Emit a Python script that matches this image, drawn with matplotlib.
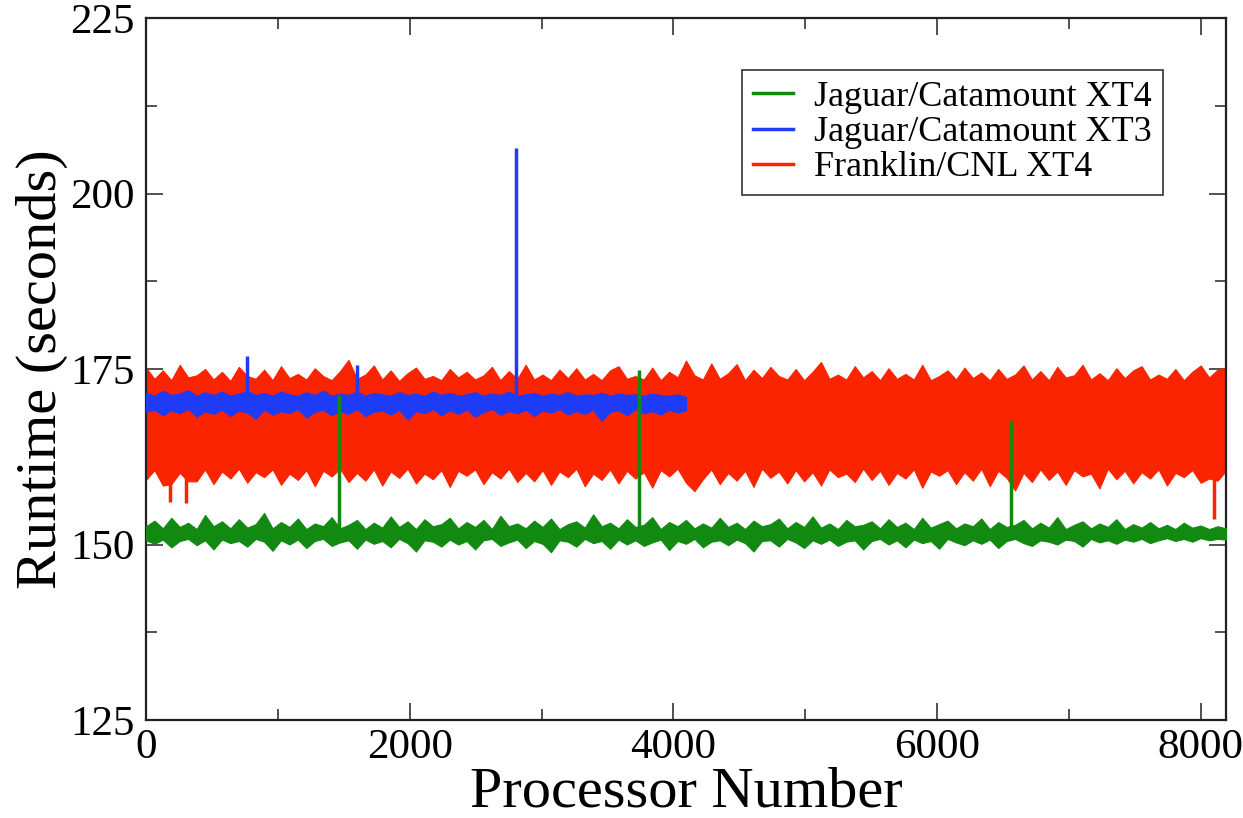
import matplotlib
matplotlib.use("Agg")
import matplotlib.pyplot as plt
import numpy as np
from matplotlib.lines import Line2D
from matplotlib.ticker import MultipleLocator

plt.rcParams['font.family'] = ['Liberation Serif', 'DejaVu Serif']

GREEN = '#128a12'
BLUE = '#1e3cf5'
RED = '#fb2400'

# envelope of the noisy runtime per block of 64 processors
proc_full = np.arange(0, 8193, 64)
proc_half = np.arange(0, 4097, 64)

red_hi = [
    175.2, 173.6, 174.8, 173.4, 175.6, 173.8, 174.1, 175.0, 173.5, 174.6,
    173.3, 175.3, 174.0, 173.6, 174.9, 173.4, 175.4, 173.7, 174.3, 173.5,
    175.1, 174.0, 173.4, 174.7, 176.3, 173.6, 174.2, 175.5, 173.5, 174.8,
    173.3, 174.4, 175.2, 173.6, 174.0, 173.4, 175.0, 173.8, 174.6, 173.5,
    174.1, 175.3, 173.4, 174.7, 173.6, 175.6, 173.5, 174.2, 173.4, 174.9,
    173.7, 175.1, 173.5, 174.3, 173.4, 174.8, 175.4, 173.6, 174.0, 173.5,
    175.2, 173.4, 174.6, 173.8, 176.2, 174.1, 173.5, 175.8, 173.6, 174.4,
    175.7, 173.4, 174.9, 173.7, 175.3, 174.0, 173.5, 175.0, 173.4, 174.6,
    176.0, 173.6, 174.2, 173.5, 175.4, 173.8, 174.7, 173.4, 175.1, 173.6,
    174.3, 173.5, 175.6, 173.4, 174.0, 174.8, 173.5, 175.2, 173.7, 174.5,
    173.4, 175.0, 173.6, 174.2, 175.5, 173.5, 174.7, 173.4, 175.3, 173.8,
    174.1, 175.6, 173.5, 174.4, 173.4, 175.1, 173.7, 174.8, 175.4, 173.5,
    174.2, 173.6, 175.0, 173.4, 174.6, 175.5, 173.8, 174.9, 175.2]
red_lo = [
    159.2, 160.6, 158.4, 158.6, 160.2, 159.0, 159.0, 160.7, 158.6, 160.4,
    159.4, 160.8, 158.8, 160.3, 159.6, 160.7, 158.5, 160.1, 159.2, 160.6,
    158.3, 160.5, 159.7, 160.8, 158.9, 160.2, 159.1, 160.7, 158.4, 160.4,
    159.5, 160.8, 158.7, 160.1, 159.3, 160.6, 158.2, 160.5, 159.8, 160.7,
    158.6, 160.3, 159.4, 160.8, 158.9, 160.2, 159.0, 160.6, 158.5, 160.4,
    159.6, 160.8, 158.3, 160.1, 159.2, 160.7, 158.7, 160.5, 159.4, 160.3,
    158.1, 160.6, 159.7, 160.8, 158.8, 157.6, 159.3, 160.7, 158.6, 160.2,
    159.1, 160.5, 158.2, 160.8, 159.5, 160.4, 158.7, 160.6, 159.0, 160.3,
    158.4, 160.7, 159.6, 160.1, 158.9, 160.8, 159.2, 160.5, 158.5, 160.2,
    159.4, 160.7, 158.1, 160.4, 159.8, 160.6, 158.6, 160.3, 159.1, 160.8,
    158.3, 160.5, 159.5, 157.7, 160.2, 158.9, 160.7, 159.2, 160.4, 158.5,
    160.6, 159.7, 160.1, 158.0, 160.8, 159.3, 160.5, 158.7, 160.3, 159.4,
    160.7, 158.4, 160.2, 159.6, 160.6, 158.8, 159.4, 159.1, 160.5]

blue_hi = [
    171.6, 171.2, 171.9, 171.3, 171.5, 172.0, 171.2, 171.7, 171.3, 171.8,
    171.2, 171.5, 171.9, 171.3, 171.6, 171.2, 171.8, 171.4, 171.2, 171.7,
    171.3, 171.9, 171.2, 171.5, 171.3, 171.8, 171.2, 171.6, 171.4, 171.2,
    171.7, 171.3, 171.5, 171.2, 171.8, 171.3, 171.6, 171.2, 171.4, 171.7,
    171.2, 171.5, 171.3, 171.8, 171.2, 171.4, 171.6, 171.2, 171.5, 171.3,
    171.7, 171.2, 171.4, 171.3, 171.6, 171.2, 171.5, 171.3, 171.4, 171.2,
    171.5, 171.3, 171.2, 171.4, 171.0]
blue_lo = [
    168.9, 169.2, 168.4, 169.1, 168.7, 169.3, 168.2, 169.0, 168.6, 169.2,
    168.3, 169.1, 168.8, 167.9, 169.2, 168.5, 169.0, 168.7, 169.3, 168.1,
    168.9, 169.2, 168.4, 169.0, 168.6, 169.3, 168.3, 168.9, 169.1, 168.5,
    169.2, 167.8, 169.0, 168.7, 169.3, 168.4, 169.1, 168.6, 169.2, 168.2,
    168.9, 169.3, 168.5, 169.0, 168.7, 169.2, 168.3, 169.1, 168.8, 169.3,
    168.5, 169.0, 168.6, 169.2, 167.6, 168.9, 169.1, 168.4, 169.3, 168.7,
    169.0, 168.5, 169.2, 168.8, 169.1]

green_hi = [
    152.6, 153.4, 152.3, 153.8, 152.5, 153.1, 152.2, 154.2, 152.6, 153.3,
    152.3, 153.6, 152.4, 152.9, 154.5, 152.3, 153.2, 152.5, 153.7, 152.2,
    153.0, 152.6, 153.9, 152.3, 152.8, 153.5, 152.2, 153.1, 152.4, 154.0,
    152.5, 153.3, 152.2, 153.6, 152.6, 152.9, 153.8, 152.3, 153.2, 152.5,
    153.5, 152.2, 154.1, 152.6, 153.0, 152.3, 153.4, 152.5, 153.7, 152.2,
    152.9, 153.3, 152.4, 154.3, 152.6, 153.1, 152.3, 153.6, 152.5, 152.8,
    153.9, 152.2, 153.2, 152.6, 153.5, 152.3, 153.0, 152.4, 153.8, 152.5,
    153.1, 152.2, 153.4, 152.6, 152.9, 153.7, 152.3, 153.2, 152.5, 154.0,
    152.4, 153.0, 152.2, 153.5, 152.6, 152.8, 153.3, 152.3, 153.6, 152.5,
    153.1, 152.2, 153.8, 152.4, 152.9, 153.4, 152.3, 153.0, 152.6, 153.7,
    152.2, 153.2, 152.5, 152.8, 153.5, 152.3, 153.1, 152.4, 153.9, 152.2,
    152.8, 153.3, 152.3, 153.0, 152.5, 153.6, 152.2, 152.9, 152.4, 153.2,
    152.3, 152.8, 152.2, 153.1, 152.4, 152.7, 152.2, 152.6, 152.3]
green_lo = [
    150.6, 150.1, 150.7, 149.6, 150.5, 150.8, 149.9, 150.6, 149.3, 150.7,
    150.2, 150.5, 149.7, 150.8, 150.4, 149.1, 150.6, 150.0, 150.7, 149.5,
    150.5, 150.8, 149.8, 150.3, 150.6, 149.4, 150.7, 150.1, 150.5, 149.6,
    150.8, 150.2, 149.0, 150.6, 150.4, 149.7, 150.7, 150.0, 150.5, 149.3,
    150.6, 150.8, 149.8, 150.3, 150.7, 149.5, 150.5, 150.1, 148.9, 150.6,
    150.4, 149.7, 150.8, 150.2, 150.5, 149.4, 150.7, 150.0, 150.6, 149.8,
    150.3, 150.7, 149.2, 150.5, 150.1, 150.8, 149.6, 150.4, 150.6, 149.9,
    150.7, 150.2, 149.0, 150.5, 150.6, 149.7, 150.8, 150.3, 149.5, 150.6,
    150.1, 150.7, 149.8, 150.4, 150.6, 149.3, 150.5, 150.8, 150.0, 150.6,
    149.6, 150.7, 150.2, 150.5, 149.4, 150.8, 150.3, 149.9, 150.6, 150.1,
    150.7, 149.5, 150.5, 150.8, 150.2, 149.8, 150.6, 150.4, 150.0, 150.7,
    150.5, 149.7, 150.8, 150.3, 150.6, 150.1, 150.7, 150.4, 150.8, 150.2,
    150.6, 150.9, 150.5, 150.8, 150.4, 150.9, 150.6, 150.8, 150.7]

# single outlier processors
red_dip_x = [180, 300, 8100]
red_dip_y = [156.0, 155.9, 153.6]
blue_spike_x = [768, 1600, 2810]
blue_spike_y = [176.8, 175.6, 206.5]
green_spike_x = [1462, 3740, 6560]
green_spike_y = [171.3, 174.9, 167.6]

labels = ['Jaguar/Catamount XT4', 'Jaguar/Catamount XT3', 'Franklin/CNL XT4']


def mid(x, xs, hi, lo):
    return np.interp(x, xs, (np.array(hi) + np.array(lo)) / 2)


fig = plt.figure(figsize=(12.43, 8.18), dpi=100)
ax = fig.add_axes([146 / 1243, 1 - 720 / 818, 1080 / 1243, 702 / 818])

ax.fill_between(proc_full, red_lo, red_hi, color=RED, lw=0.8, zorder=2)
ax.vlines(red_dip_x, mid(red_dip_x, proc_full, red_hi, red_lo), red_dip_y, color=RED, lw=2.5, zorder=2)

ax.fill_between(proc_half, blue_lo, blue_hi, color=BLUE, lw=0.8, zorder=3)
ax.vlines(blue_spike_x, mid(blue_spike_x, proc_half, blue_hi, blue_lo), blue_spike_y, color=BLUE, lw=2.5, zorder=3)

ax.fill_between(proc_full, green_lo, green_hi, color=GREEN, lw=0.8, zorder=4)
ax.vlines(green_spike_x, mid(green_spike_x, proc_full, green_hi, green_lo), green_spike_y, color=GREEN, lw=2.5, zorder=4)

ax.set_xlim(0, 8192)
ax.set_ylim(125, 225)
ax.xaxis.set_major_locator(MultipleLocator(2000))
ax.xaxis.set_minor_locator(MultipleLocator(1000))
ax.yaxis.set_major_locator(MultipleLocator(25))
ax.yaxis.set_minor_locator(MultipleLocator(12.5))
ax.tick_params(which='both', direction='in', top=True, right=True, width=1.1, color='#222222')
ax.tick_params(which='major', length=12, labelsize=31)
ax.tick_params(which='minor', length=8)
ax.tick_params(axis='x', pad=6)
ax.tick_params(axis='y', pad=8)
for sp in ax.spines.values():
    sp.set_linewidth(1.6)
    sp.set_color('#222222')

ax.set_xlabel('Processor Number', fontsize=42, labelpad=0)
ax.set_ylabel('Runtime (seconds)', fontsize=42, labelpad=2)

handles = [Line2D([], [], color=c, lw=2.5) for c in (GREEN, BLUE, RED)]
leg = ax.legend(handles, labels, loc='upper right', bbox_to_anchor=(0.9417, 0.926),
                borderaxespad=0, fontsize=26, frameon=True, fancybox=False,
                edgecolor='#333333', framealpha=1, handlelength=1.1,
                handletextpad=0.6, labelspacing=0.05, borderpad=0.3)
leg.get_frame().set_linewidth(1.2)

fig.savefig('out.png', dpi=100)
